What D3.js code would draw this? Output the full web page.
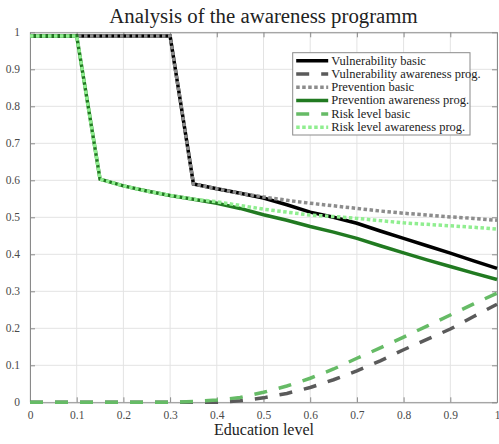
<!DOCTYPE html>
<html>
<head>
<meta charset="utf-8">
<script src="https://cdn.jsdelivr.net/npm/d3@7"></script>
<style>
  html, body { margin: 0; padding: 0; background: #fff; }
  svg { display: block; }
</style>
</head>
<body>
<svg id="chart" width="499" height="444"></svg>
<script>
// Education level samples (x axis)
const educationLevel = [0, 0.05, 0.1, 0.15, 0.2, 0.25, 0.3, 0.35, 0.4, 0.45, 0.5,
                        0.55, 0.6, 0.65, 0.7, 0.75, 0.8, 0.85, 0.9, 0.95, 1];

// Series values
const vulnerabilityBasic = [0.99, 0.99, 0.99, 0.99, 0.99, 0.99, 0.99, 0.59, 0.577, 0.565, 0.552,
                            0.534, 0.514, 0.500, 0.484, 0.463, 0.443, 0.423, 0.403, 0.382, 0.362];
const vulnerabilityAwareness = [0, 0, 0, 0, 0, 0, 0, 0, 0, 0.004, 0.012,
                                0.024, 0.040, 0.061, 0.085, 0.112, 0.142, 0.170, 0.198, 0.232, 0.265];
const preventionBasic = [0.99, 0.99, 0.99, 0.99, 0.99, 0.99, 0.99, 0.59, 0.577, 0.565, 0.555,
                         0.546, 0.538, 0.531, 0.524, 0.517, 0.511, 0.506, 0.501, 0.497, 0.492];
const preventionAwareness = [0.99, 0.99, 0.99, 0.603, 0.585, 0.571, 0.559, 0.549, 0.538, 0.524, 0.507,
                             0.492, 0.475, 0.460, 0.443, 0.423, 0.404, 0.385, 0.367, 0.349, 0.332];
const riskBasic = [0, 0, 0, 0, 0, 0, 0, 0.002, 0.006, 0.013, 0.027,
                   0.044, 0.065, 0.090, 0.119, 0.147, 0.176, 0.206, 0.236, 0.266, 0.295];
const riskAwareness = [0.99, 0.99, 0.99, 0.603, 0.585, 0.571, 0.559, 0.549, 0.542, 0.532, 0.522,
                       0.514, 0.506, 0.502, 0.497, 0.491, 0.485, 0.481, 0.477, 0.473, 0.468];

const seriesNames = ["Vulnerability basic", "Vulnerability awareness prog.", "Prevention basic",
                     "Prevention awareness prog.", "Risk level basic", "Risk level awareness prog."];

const xTicks = [0, 0.1, 0.2, 0.3, 0.4, 0.5, 0.6, 0.7, 0.8, 0.9, 1];
const yTicks = [0, 0.1, 0.2, 0.3, 0.4, 0.5, 0.6, 0.7, 0.8, 0.9, 1];

const titleText = "Analysis of the awareness programm";
const xLabelText = "Education level";

// Line styling per series
const styles = [
  { color: "#000000", dash: null },
  { color: "#5a5a5a", dash: "13,12" },
  { color: "#8c8c8c", dash: "3.5,2.5" },
  { color: "#217a21", dash: null },
  { color: "#66bb66", dash: "13,12" },
  { color: "#90ee90", dash: "3.5,2.5" }
];

const seriesValues = [vulnerabilityBasic, vulnerabilityAwareness, preventionBasic,
                      preventionAwareness, riskBasic, riskAwareness];

const FONT = "'Liberation Serif', 'Times New Roman', 'DejaVu Serif', serif";

const W = 499, H = 444;
const margin = { left: 30, right: 2, top: 32.3, bottom: 41.7 };
const svg = d3.select("#chart");

const x = d3.scaleLinear().domain([0, 1]).range([margin.left, W - margin.right]);
const y = d3.scaleLinear().domain([0, 1]).range([H - margin.bottom, margin.top]);

// Grid
const grid = svg.append("g");
grid.selectAll(".gx").data(xTicks).join("line")
  .attr("x1", d => x(d)).attr("x2", d => x(d))
  .attr("y1", y(0)).attr("y2", y(1))
  .attr("stroke", "#e3e3e3").attr("stroke-width", 1);
grid.selectAll(".gy").data(yTicks).join("line")
  .attr("x1", x(0)).attr("x2", x(1))
  .attr("y1", d => y(d)).attr("y2", d => y(d))
  .attr("stroke", "#e3e3e3").attr("stroke-width", 1);

// Axes (ticks point inward, box on all sides)
const tickLen = 5;
const axisColor = "#8a8a8a";
function styleAxis(g) {
  g.attr("font-family", FONT).attr("font-size", 11.5);
  g.select(".domain").attr("stroke", axisColor);
  g.selectAll(".tick line").attr("stroke", axisColor);
  g.selectAll(".tick text").attr("fill", "#4a4a4a")
    .style("font-family", FONT).style("font-size", "11.5px");
}
const xFmt = d => d === 0 ? "0" : d === 1 ? "1" : d3.format(".1f")(d);

svg.append("g").attr("transform", `translate(0,${y(0)})`)
  .call(d3.axisBottom(x).tickValues(xTicks).tickFormat(xFmt).tickSizeInner(-tickLen).tickSizeOuter(0).tickPadding(9))
  .call(styleAxis);
svg.append("g").attr("transform", `translate(0,${y(1)})`)
  .call(d3.axisTop(x).tickValues(xTicks).tickFormat("").tickSizeInner(-tickLen).tickSizeOuter(0))
  .call(styleAxis);
svg.append("g").attr("transform", `translate(${x(0)},0)`)
  .call(d3.axisLeft(y).tickValues(yTicks).tickFormat(xFmt).tickSizeInner(-tickLen).tickSizeOuter(0).tickPadding(10))
  .call(styleAxis);
svg.append("g").attr("transform", `translate(${x(1)},0)`)
  .call(d3.axisRight(y).tickValues(yTicks).tickFormat("").tickSizeInner(-tickLen).tickSizeOuter(0))
  .call(styleAxis);

// Series lines
const line = d3.line().x((d, i) => x(educationLevel[i])).y(d => y(d));
const lines = svg.append("g");
seriesValues.forEach((vals, k) => {
  lines.append("path")
    .datum(vals)
    .attr("d", line)
    .attr("fill", "none")
    .attr("stroke", styles[k].color)
    .attr("stroke-width", 3.5)
    .attr("stroke-dasharray", styles[k].dash)
    .attr("stroke-linejoin", "miter")
    .attr("stroke-linecap", "butt");
});

// Title and axis label
svg.append("text").attr("x", 263.5).attr("y", 22.5).attr("text-anchor", "middle")
  .style("font-family", FONT).style("font-size", "20.8px").attr("fill", "#222").text(titleText);
svg.append("text").attr("x", 264).attr("y", 435).attr("text-anchor", "middle")
  .style("font-family", FONT).style("font-size", "16px").attr("fill", "#222").text(xLabelText);

// Legend
const lg = svg.append("g").attr("transform", "translate(292.7,52.7)");
lg.append("rect").attr("width", 177.3).attr("height", 82.3)
  .attr("fill", "#fff").attr("stroke", "#8a8a8a").attr("stroke-width", 1);
seriesNames.forEach((name, k) => {
  const ry = 8 + k * 13.3;
  lg.append("line").attr("x1", 3.5).attr("x2", 35.5).attr("y1", ry).attr("y2", ry)
    .attr("stroke", styles[k].color).attr("stroke-width", 3.5)
    .attr("stroke-dasharray", styles[k].dash);
  lg.append("text").attr("x", 38.5).attr("y", ry + 3.9)
    .style("font-family", FONT).style("font-size", "12.5px").attr("fill", "#222").text(name);
});
</script>
</body>
</html>
